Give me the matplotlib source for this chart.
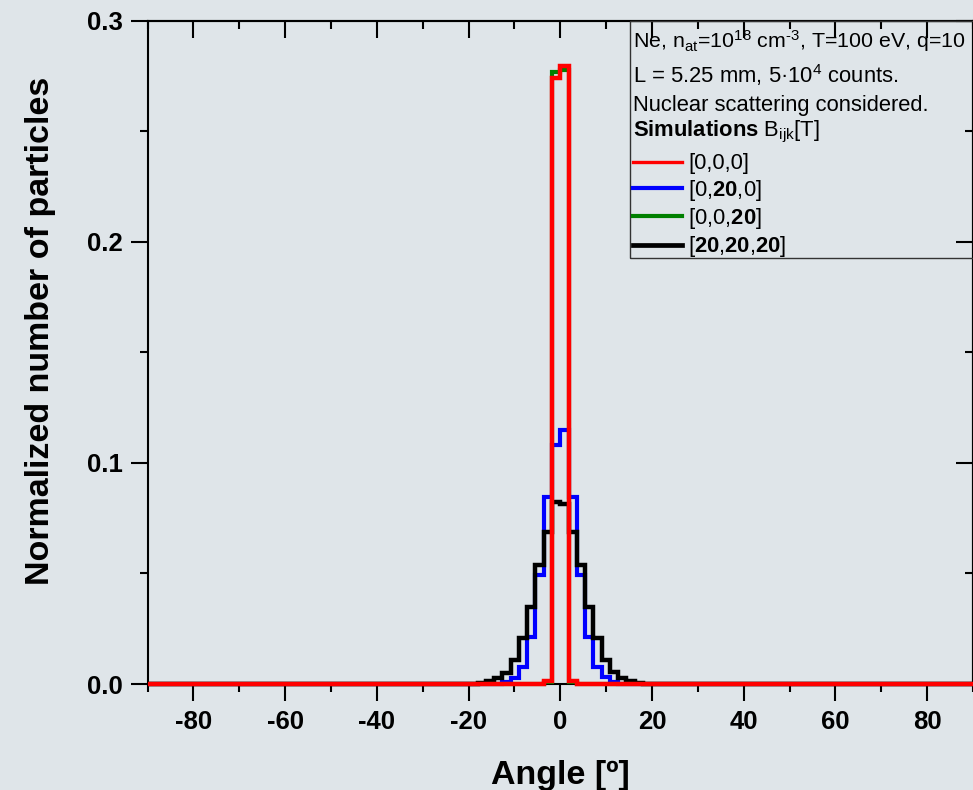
import numpy as np
import matplotlib
matplotlib.use('Agg')
import matplotlib.pyplot as plt
from matplotlib.lines import Line2D
from matplotlib.patches import Rectangle
from matplotlib.ticker import MultipleLocator, FormatStrFormatter

plt.rcParams['font.family'] = ['Liberation Sans', 'DejaVu Sans']
plt.rcParams['mathtext.fontset'] = 'custom'
plt.rcParams['mathtext.rm'] = 'Liberation Sans'
plt.rcParams['mathtext.bf'] = 'Liberation Sans:bold'
plt.rcParams['mathtext.it'] = 'Liberation Sans:italic'
plt.rcParams['mathtext.sf'] = 'Liberation Sans'
plt.rcParams['mathtext.default'] = 'regular'
plt.rcParams['axes.unicode_minus'] = False

# ---------------- data ----------------
angle_min, angle_max = -90.0, 90.0
bin_width = 1.8
# central bins from -18 to 18 deg (20 bins); outside this range counts are zero
core_edges = np.round(np.arange(-18.0, 18.0 + 0.001, bin_width), 2)

red_000 = [0, 0, 0, 0, 0, 0, 0, 0.0002, 0.0015, 0.2739,
           0.2795, 0.0015, 0.0002, 0, 0, 0, 0, 0, 0, 0]
blue_0200 = [0, 0, 0.0002, 0.0008, 0.0026, 0.0078, 0.0214, 0.0493, 0.0847, 0.1081,
             0.1149, 0.0847, 0.0493, 0.0214, 0.0078, 0.0033, 0.0008, 0.0002, 0, 0]
green_0020 = [0, 0, 0, 0, 0, 0, 0, 0.0002, 0.0010, 0.2769,
              0.2778, 0.0010, 0.0002, 0, 0, 0, 0, 0, 0, 0]
black_202020 = [0.0006, 0.0015, 0.0026, 0.0048, 0.0109, 0.0207, 0.0350, 0.0538, 0.0689, 0.0824,
                0.0814, 0.0689, 0.0538, 0.0350, 0.0207, 0.0109, 0.0056, 0.0026, 0.0012, 0.0005]

labels = ["[0,0,0]", "[0,$\\mathbf{20}$,0]", "[0,0,$\\mathbf{20}$]",
          "[$\\mathbf{20}$,$\\mathbf{20}$,$\\mathbf{20}$]"]
colors = ['#FF0000', '#0000FF', '#008000', '#000000']

header_lines = ["Ne, n$_{at}$=10$^{18}$ cm$^{\\text{-3}}$, T=100 eV, q=10",
                "L = 5.25 mm, 5\u00b710$^{4}$ counts.",
                "Nuclear scattering considered.",
                "$\\mathbf{Simulations}$ B$_{ijk}$[T]"]

edges = np.concatenate([[angle_min], core_edges, [angle_max]])

def full(vals):
    return np.concatenate([[0.0], vals, [0.0]])

bg = '#DFE5E9'
fig = plt.figure(figsize=(9.73, 7.9), dpi=100, facecolor=bg)
W, H = 973, 790
x0, x1 = 147.5, 973
y0, y1 = 684, 20.7
ax = fig.add_axes([x0 / W, 1 - y0 / H, (x1 - x0) / W, (y0 - y1) / H])
ax.set_facecolor(bg)

def axx(px):
    return (px - x0) / (x1 - x0)

def axy(py):
    return (y0 - py) / (y0 - y1)

series = [(blue_0200, colors[1], 3.0, 2),
          (black_202020, colors[3], 3.2, 3),
          (green_0020, colors[2], 3.0, 4),
          (red_000, colors[0], 3.2, 5)]
for vals, c, lw, z in series:
    ax.stairs(full(vals), edges, baseline=None, color=c, linewidth=lw,
              zorder=z, clip_on=False)

ax.set_xlim(angle_min, angle_max)
ax.set_ylim(0, 0.3)

ax.xaxis.set_major_locator(MultipleLocator(20))
ax.xaxis.set_minor_locator(MultipleLocator(10))
ax.yaxis.set_major_locator(MultipleLocator(0.1))
ax.yaxis.set_minor_locator(MultipleLocator(0.05))
ax.yaxis.set_major_formatter(FormatStrFormatter('%.1f'))

ax.tick_params(which='major', direction='out', length=12, width=1.5,
               labelsize=18.5, pad=6)
ax.tick_params(which='minor', direction='out', length=6, width=1.5)
ax.tick_params(axis='x', which='major', pad=7)
for lbl in ax.get_xticklabels() + ax.get_yticklabels():
    lbl.set_fontweight('bold')

for s in ax.spines.values():
    s.set_linewidth(1.5)

sx = ax.secondary_xaxis('top')
sx.xaxis.set_major_locator(MultipleLocator(20))
sx.xaxis.set_minor_locator(MultipleLocator(10))
sx.tick_params(which='major', direction='in', length=12, width=1.5, labeltop=False)
sx.tick_params(which='minor', direction='in', length=6, width=1.5)
sx.spines['top'].set_linewidth(1.5)

sy = ax.secondary_yaxis('right')
sy.yaxis.set_major_locator(MultipleLocator(0.1))
sy.yaxis.set_minor_locator(MultipleLocator(0.05))
sy.tick_params(which='major', direction='in', length=12, width=1.5, labelright=False)
sy.tick_params(which='minor', direction='in', length=6, width=1.5)
sy.spines['right'].set_linewidth(1.5)

ax.set_xlabel("Angle [\u00ba]", fontsize=24.5, fontweight='bold')
ax.xaxis.set_label_coords(0.5, -0.115)
ax.set_ylabel("Normalized number of particles", fontsize=24.5, fontweight='bold')
ax.yaxis.set_label_coords(-0.111, 0.532)

# ---- legend box (header text + entries) ----
fs_leg = 15.8
box = Rectangle((axx(630), axy(258.3)), 1.2, axy(21.5) - axy(258.3),
                transform=ax.transAxes, facecolor='none', edgecolor='#333333',
                linewidth=1.0, clip_on=False, zorder=9)
ax.add_patch(box)
header_sizes = [15.4, fs_leg, fs_leg, fs_leg]
for line, base_py, fs in zip(header_lines, [48.3, 83.3, 110.7, 136.7], header_sizes):
    ax.text(axx(633.3), axy(base_py), line, transform=ax.transAxes,
            fontsize=fs, va='baseline', ha='left', zorder=10)

handles = [Line2D([], [], color=colors[0], lw=2.4),
           Line2D([], [], color=colors[1], lw=3.0),
           Line2D([], [], color=colors[2], lw=3.0),
           Line2D([], [], color=colors[3], lw=3.4)]
leg = ax.legend(handles, labels, loc='upper left',
                bbox_to_anchor=(axx(633.3), axy(153.5)), borderaxespad=0,
                frameon=False, fontsize=fs_leg,
                handlelength=2.2, handletextpad=0.3, labelspacing=0.15,
                borderpad=0)
leg.set_zorder(10)

fig.savefig('out.png', dpi=100, facecolor=bg)
